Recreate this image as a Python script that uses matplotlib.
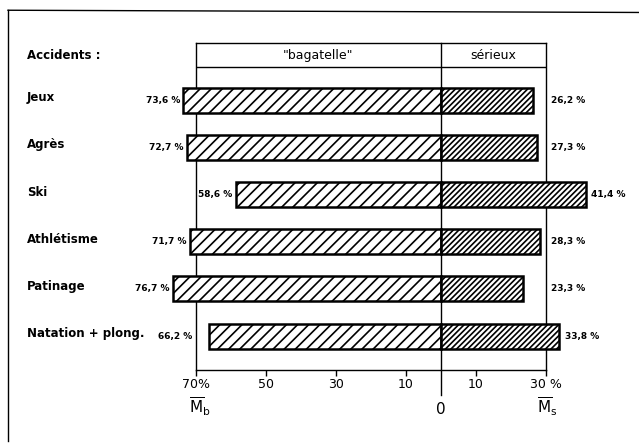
import matplotlib.pyplot as plt
import matplotlib.transforms as mtransforms
from matplotlib.lines import Line2D

# data
sports = ["Jeux", "Agrès", "Ski", "Athlétisme", "Patinage", "Natation + plong."]
bagatelle = [73.6, 72.7, 58.6, 71.7, 76.7, 66.2]
serieux = [26.2, 27.3, 41.4, 28.3, 23.3, 33.8]
bag_labels = ["73,6 %", "72,7 %", "58,6 %", "71,7 %", "76,7 %", "66,2 %"]
ser_labels = ["26,2 %", "27,3 %", "41,4 %", "28,3 %", "23,3 %", "33,8 %"]
tick_vals = [-70, -50, -30, -10, 10, 30]
tick_text = ["70%", "50", "30", "10", "10", "30 %"]

plt.rcParams['font.family'] = 'DejaVu Sans'
plt.rcParams['mathtext.fontset'] = 'dejavusans'
plt.rcParams['hatch.linewidth'] = 1.2

fig = plt.figure(figsize=(6.39, 4.45), dpi=100)
ax = fig.add_axes([0.3067, 0.1685, 0.5477, 0.7348])

rows = range(len(sports))
ax.barh(rows, [-v for v in bagatelle], height=0.53, color='white',
        edgecolor='black', linewidth=1.8, hatch='///', clip_on=False, zorder=3)
ax.barh(rows, serieux, height=0.53, color='white',
        edgecolor='black', linewidth=1.8, hatch='//////', clip_on=False, zorder=3)

ax.set_xlim(-70, 30)
ax.set_ylim(5.72, -1.21)

# header row
ax.axhline(-0.70, color='black', lw=1.0)
ax.text(-35, -0.95, '"bagatelle"', ha='center', va='center', fontsize=9)
ax.text(15, -0.95, 'sérieux', ha='center', va='center', fontsize=9)

# zero line, running below the axis
ax.axvline(0, ymin=-0.077, ymax=1, color='black', lw=1.0, clip_on=False, zorder=4)

for s in ax.spines.values():
    s.set_linewidth(1.0)

ax.set_yticks([])
ax.set_xticks(tick_vals)
ax.set_xticklabels(tick_text, fontsize=9)
ax.tick_params(axis='x', direction='out', length=4, width=1.0, pad=2)

# value labels
for i, v in enumerate(bagatelle):
    anchor = -max(v, 70) if v > 60 else -v
    ax.text(anchor - 1.0, i, bag_labels[i], ha='right', va='center',
            fontsize=6.5, fontweight='bold')
for i, v in enumerate(serieux):
    ax.text(max(v, 30) + 1.5, i, ser_labels[i], ha='left', va='center',
            fontsize=6.5, fontweight='bold', clip_on=False)

# row labels
trans = mtransforms.blended_transform_factory(fig.transFigure, ax.transData)
ax.text(0.042, -0.95, "Accidents :", transform=trans, ha='left', va='center',
        fontsize=8.5, fontweight='semibold')
for i, name in enumerate(sports):
    ax.text(0.042, i - 0.05, name, transform=trans, ha='left', va='center',
            fontsize=8.5, fontweight='semibold')

# axis names below
ax.text(-72, 6.5, r'$\overline{\mathrm{M}}_\mathrm{b}$', ha='left', va='center', fontsize=11)
ax.text(0, 6.55, '0', ha='center', va='center', fontsize=11)
ax.text(27.5, 6.5, r'$\overline{\mathrm{M}}_\mathrm{s}$', ha='left', va='center', fontsize=11)

# outer frame (left and top edges)
fig.add_artist(Line2D([0.0125, 0.0125], [0.01, 0.977], transform=fig.transFigure,
                      color='black', lw=1.0))
fig.add_artist(Line2D([0.0125, 1.0], [0.977, 0.972], transform=fig.transFigure,
                      color='black', lw=1.0))

plt.savefig('out.png', dpi=100)
